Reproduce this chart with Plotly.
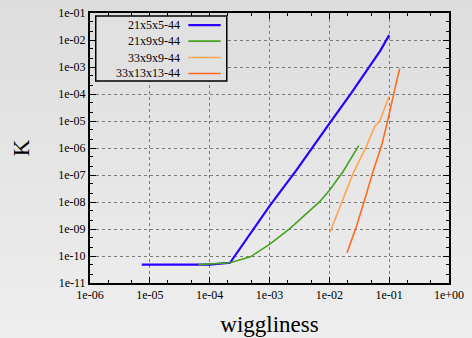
import plotly.graph_objects as go

# ---- data ----
series_names = ["21x5x5-44", "21x9x9-44", "33x9x9-44", "33x13x13-44"]
series_colors = ["#2a00ff", "#46a11e", "#ffa54f", "#ff6a1e"]
series_widths = [2.2, 1.6, 1.6, 1.6]

blue_x = [7.33e-6, 3.16e-5, 1e-4, 2.19e-4, 5.0e-4, 1e-3, 2.86e-3, 6.92e-3, 1e-2, 2.34e-2, 4.81e-2, 7.08e-2, 0.1]
blue_y = [4.79e-11, 4.79e-11, 4.79e-11, 5.62e-11, 7.94e-10, 7.08e-9, 1.58e-7, 2.69e-6, 7.94e-6, 1.10e-4, 1.07e-3, 3.98e-3, 1.51e-2]

green_x = [6.46e-5, 2.19e-4, 4.79e-4, 1e-3, 2.21e-3, 5.01e-3, 6.97e-3, 1.02e-2, 1.40e-2, 1.70e-2, 3.10e-2]
green_y = [4.79e-11, 5.62e-11, 9.33e-11, 2.69e-10, 1.05e-9, 5.37e-9, 1.05e-8, 2.82e-8, 7.08e-8, 1.35e-7, 1.23e-6]

lorange_x = [1.02e-2, 1.59e-2, 2.49e-2, 4.16e-2, 5.73e-2, 6.95e-2, 8.41e-2, 9.93e-2]
lorange_y = [7.41e-10, 9.12e-9, 1.12e-7, 1.15e-6, 6.31e-6, 9.77e-6, 3.02e-5, 8.13e-5]

dorange_x = [1.98e-2, 2.83e-2, 3.90e-2, 5.37e-2, 7.41e-2, 9.55e-2, 0.135, 0.150]
dorange_y = [1.32e-10, 1.23e-9, 1.20e-8, 1.35e-7, 1.15e-6, 1.12e-5, 3.39e-4, 8.71e-4]

x_tick_vals = [1e-6, 1e-5, 1e-4, 1e-3, 1e-2, 1e-1, 1e0]
x_tick_text = ["1e-06", "1e-05", "1e-04", "1e-03", "1e-02", "1e-01", "1e+00"]
y_tick_vals = [1e-11, 1e-10, 1e-9, 1e-8, 1e-7, 1e-6, 1e-5, 1e-4, 1e-3, 1e-2, 1e-1]
y_tick_text = ["1e-11", "1e-10", "1e-09", "1e-08", "1e-07", "1e-06", "1e-05", "1e-04", "1e-03", "1e-02", "1e-01"]

x_title = "wiggliness"
y_title = "K"

xs = [blue_x, green_x, lorange_x, dorange_x]
ys = [blue_y, green_y, lorange_y, dorange_y]

FONT = "Liberation Serif, Times New Roman, serif"

fig = go.Figure()
for name, color, w, x, y in zip(series_names, series_colors, series_widths, xs, ys):
    fig.add_trace(go.Scatter(x=x, y=y, mode="lines", name=name,
                             line=dict(color=color, width=w), showlegend=False,
                             hoverinfo="skip"))

x_minor = [d * m for d in x_tick_vals[:-1] for m in (2, 5)]
y_minor = [d * m for d in y_tick_vals[:-1] for m in (2, 5)]

axis_common = dict(
    type="log", showline=True, linecolor="black", linewidth=2, mirror="allticks",
    ticks="inside", ticklen=6, tickwidth=1, tickcolor="black",
    showgrid=True, gridcolor="#7a7a7a", griddash="dot", gridwidth=1,
    zeroline=False, automargin=False,
    tickfont=dict(family=FONT, size=12, color="black"),
)

fig.update_xaxes(**axis_common, range=[-6, 0], tickmode="array",
                 tickvals=x_tick_vals, ticktext=x_tick_text,
                 minor=dict(tickmode="array", tickvals=x_minor, ticks="inside",
                            ticklen=3, tickcolor="black", showgrid=False),
                 title=dict(text=x_title, font=dict(family=FONT, size=23, color="black"),
                            standoff=14))
fig.update_yaxes(**axis_common, range=[-11, -1], tickmode="array",
                 tickvals=y_tick_vals, ticktext=y_tick_text,
                 minor=dict(tickmode="array", tickvals=y_minor, ticks="inside",
                            ticklen=3, tickcolor="black", showgrid=False),
                 title=dict(text=y_title, font=dict(family=FONT, size=23, color="black"),
                            standoff=22))

# ---- legend drawn gnuplot-style (text right-aligned, sample line on the right) ----
fig.add_shape(type="rect", xref="paper", yref="paper", x0=0.016, x1=0.381,
              y0=0.748, y1=0.989, line=dict(color="black", width=1.5),
              fillcolor="#e1e1e1", layer="above")
row_y = [0.955, 0.896, 0.835, 0.776]
for name, color, w, ry in zip(series_names, series_colors, series_widths, row_y):
    fig.add_annotation(xref="paper", yref="paper", x=0.256, y=ry, text=name,
                       showarrow=False, xanchor="right", yanchor="middle",
                       font=dict(family=FONT, size=12, color="black"))
    fig.add_shape(type="line", xref="paper", yref="paper", x0=0.274, x1=0.364,
                  y0=ry, y1=ry, line=dict(color=color, width=w), layer="above")

fig.update_layout(
    width=472, height=338,
    margin=dict(l=90, r=23, t=13, b=55, autoexpand=False),
    paper_bgcolor="rgba(0,0,0,0)", plot_bgcolor="rgba(0,0,0,0)",
    font=dict(family=FONT, color="black"),
    hovermode=False,
)

post = (
    "document.body.style.margin='0';"
    "document.documentElement.style.background='#eeeeee';"
    "var d=document.getElementById('{plot_id}');"
    "d.style.background='linear-gradient(#dddddd,#eeeeee)';"
)

fig.write_html("out.html", config={"displayModeBar": False, "staticPlot": True},
               post_script=post)
